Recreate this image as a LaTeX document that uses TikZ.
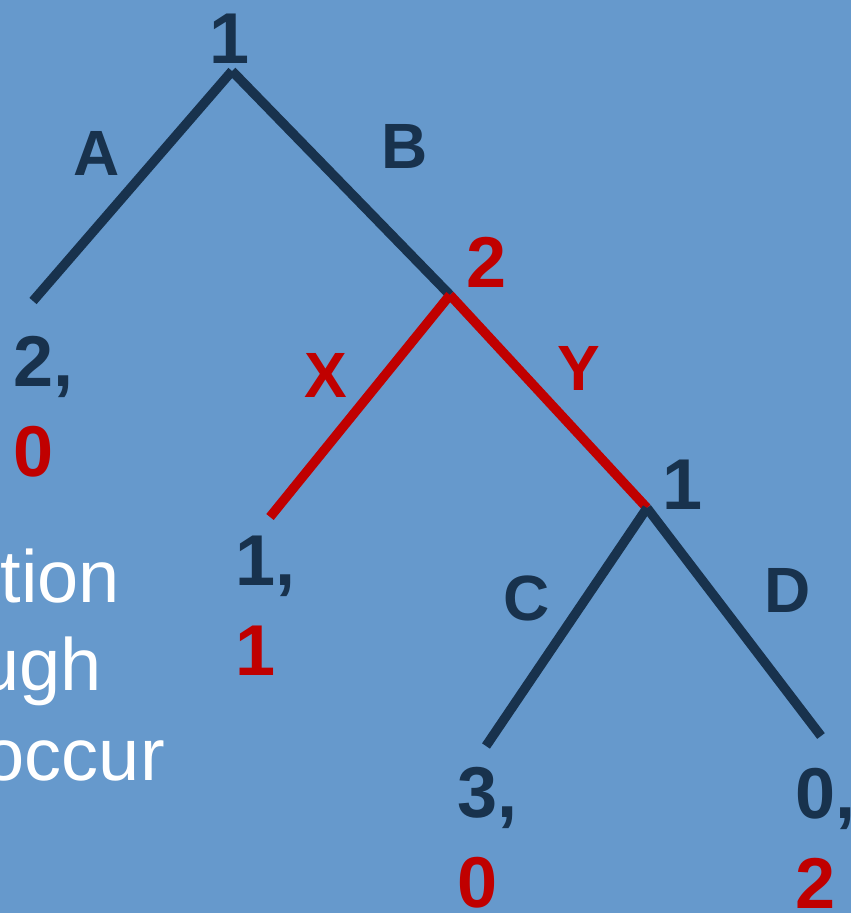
\documentclass[tikz,border=0pt]{standalone}
\usepackage{fontspec}
\setmainfont{Liberation Sans}
\usepackage{tikz}
\usetikzlibrary{positioning}

\definecolor{folienblau}{RGB}{102,153,204}
\definecolor{navy}{RGB}{24,50,77}
\definecolor{dunkelrot}{RGB}{192,0,0}

\begin{document}
\begin{tikzpicture}[x=1pt,y=-1pt,
          ast/.style={navy, line width=9.5pt},
          astrot/.style={dunkelrot, line width=9.5pt},
          spieler/.style={font=\bfseries\fontsize{72}{72}\selectfont, inner sep=0pt, anchor=base},
          zug/.style={font=\bfseries\fontsize{64}{64}\selectfont, inner sep=0pt},
          nutzen/.style={navy, font=\bfseries\fontsize{72}{72}\selectfont, inner sep=0pt, anchor=base west},
          fliess/.style={white, font=\fontsize{74}{74}\selectfont, inner sep=0pt, anchor=base east}
        ]
          % Hintergrund
          \useasboundingbox (0,0) rectangle (851,913);
          \fill[folienblau] (0,0) rectangle (851,913);
          \clip (0,0) rectangle (851,913);

          % Text links (abgeschnitten)
          \node[fliess] (t1) at (120,602) {tion};
          \node[fliess] (t2) at (102,690) {ugh};
          \node[fliess] (t3) at (165,780) {occur};

          % Knoten
          \coordinate (n1) at (232,71);
          \coordinate (n2) at (450,295);
          \coordinate (n3) at (647,508);
          \coordinate (lA) at (33,301);
          \coordinate (lX) at (270,517);
          \coordinate (lC) at (486,746);
          \coordinate (lD) at (821,736);

          % Äste
          \draw[ast] (n1) -- (lA);
          \draw[ast] (n1) -- (n2);
          \draw[astrot] (n2) -- (lX);
          \draw[astrot] (n2) -- (n3);
          \draw[ast] (n3) -- (lC);
          \draw[ast] (n3) -- (lD);

          % Spieler
          \node[spieler, navy] (s1) at (230,63) {1};
          \node[spieler, dunkelrot] (s2) at (487,287) {2};
          \node[spieler, navy] (s3) at (683,509) {1};

          % Züge
          \node[zug, navy] (zA) at (97,153) {A};
          \node[zug, navy] (zB) at (405,146) {B};
          \node[zug, dunkelrot] (zX) at (326,375) {X};
          \node[zug, dunkelrot] (zY) at (579,368) {Y};
          \node[zug, navy] (zC) at (527,598) {C};
          \node[zug, navy] (zD) at (788,590) {D};

          % Auszahlungen
          \foreach \name/\x/\y/\a/\b in {uA/13/386/2/0, uX/235/585/1/1, uC/457/817/3/0, uD/795/818/0/2} {
            \node[nutzen] (\name) at (\x,\y) {\a,};
            \node[nutzen, dunkelrot] (\name2) at (\x,\y+90) {\b};
          }
        \end{tikzpicture}
\end{document}
